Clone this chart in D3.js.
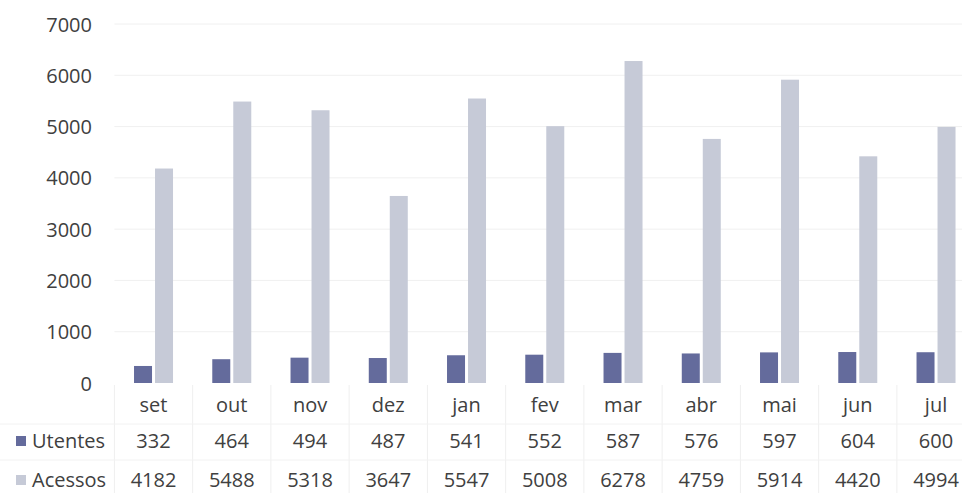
<!DOCTYPE html>
<html>
<head>
<meta charset="utf-8">
<script src="https://cdn.jsdelivr.net/npm/d3@7"></script>
<style>
  html, body { margin: 0; padding: 0; background: #fff; }
  svg { display: block; font-family: "Open Sans", sans-serif; }
</style>
</head>
<body>
<svg id="chart" width="962" height="493"></svg>
<script>
const categories = ["set", "out", "nov", "dez", "jan", "fev", "mar", "abr", "mai", "jun", "jul"];
const utentes = [332, 464, 494, 487, 541, 552, 587, 576, 597, 604, 600];
const acessos = [4182, 5488, 5318, 3647, 5547, 5008, 6278, 4759, 5914, 4420, 4994];
const seriesNames = ["Utentes", "Acessos"];
const yTicks = [0, 1000, 2000, 3000, 4000, 5000, 6000, 7000];

const colors = { Utentes: "#646b9c", Acessos: "#c6cad7" };
const textColor = "#404040";

const svg = d3.select("#chart");
const W = 962, H = 493;
svg.append("rect").attr("width", W).attr("height", H).attr("fill", "#fff");

const left = 114.4, step = 78.25;
const x = d3.scaleBand().domain(categories).range([left, left + step * categories.length]).padding(0);
const bw = x.bandwidth();
const xs = d3.scaleBand().domain(seriesNames).range([bw / 2 - 19.5, bw / 2 + 19.5]).paddingInner(0.1429);
const y = d3.scaleLinear().domain([0, 7000]).range([383, 24]);

// gridlines
svg.append("g").selectAll("line").data(yTicks.slice(1)).join("line")
  .attr("x1", left).attr("x2", W)
  .attr("y1", d => y(d)).attr("y2", d => y(d))
  .attr("stroke", "#f0f0f0").attr("stroke-width", 1);

// y axis
const yAxis = d3.axisLeft(y).tickValues(yTicks).tickSize(0).tickPadding(0).tickFormat(d3.format("d"));
const ya = svg.append("g").attr("transform", "translate(92,0)").call(yAxis);
ya.select(".domain").remove();
ya.selectAll("text").attr("font-size", 20).attr("fill", textColor)
  .attr("font-family", "'Open Sans', sans-serif").attr("dy", "0.35em");

// bars
const data = categories.map((c, i) => ({ c, Utentes: utentes[i], Acessos: acessos[i] }));
const groups = svg.append("g").selectAll("g").data(data).join("g")
  .attr("transform", d => `translate(${x(d.c)},0)`);
groups.selectAll("rect").data(d => seriesNames.map(s => ({ s, v: d[s] }))).join("rect")
  .attr("x", d => xs(d.s)).attr("width", xs.bandwidth())
  .attr("y", d => y(d.v)).attr("height", d => y(0) - y(d.v))
  .attr("fill", d => colors[d.s]);

// data table
const rowTop = 385, rowLines = [385, 424, 460, 493];
const tbl = svg.append("g");
// vertical lines
tbl.selectAll("line.v").data(categories).join("line").attr("class", "v")
  .attr("x1", d => x(d)).attr("x2", d => x(d)).attr("y1", rowTop).attr("y2", H)
  .attr("stroke", "#efefef");
// horizontal lines
tbl.selectAll("line.h").data(rowLines.slice(1, 3)).join("line").attr("class", "h")
  .attr("x1", 0).attr("x2", W).attr("y1", d => d).attr("y2", d => d)
  .attr("stroke", "#f2f2f2");

const fmt = d3.format("d");
tbl.selectAll("text.cat").data(categories).join("text").attr("class", "cat")
  .attr("x", d => x(d) + bw / 2).attr("y", 412)
  .attr("text-anchor", "middle").attr("font-size", 20).attr("fill", textColor).text(d => d);
tbl.selectAll("text.u").data(data).join("text").attr("class", "u")
  .attr("x", d => x(d.c) + bw / 2).attr("y", 448)
  .attr("text-anchor", "middle").attr("font-size", 20).attr("fill", textColor).text(d => fmt(d.Utentes));
tbl.selectAll("text.a").data(data).join("text").attr("class", "a")
  .attr("x", d => x(d.c) + bw / 2).attr("y", 487)
  .attr("text-anchor", "middle").attr("font-size", 20).attr("fill", textColor).text(d => fmt(d.Acessos));

// legend keys in table
const legendY = { Utentes: 448, Acessos: 487 };
seriesNames.forEach(s => {
  tbl.append("rect").attr("x", 16).attr("y", legendY[s] - 12).attr("width", 10).attr("height", 10)
    .attr("fill", colors[s]);
  tbl.append("text").attr("x", 32).attr("y", legendY[s])
    .attr("font-size", 20).attr("fill", textColor).text(s);
});
</script>
</body>
</html>
